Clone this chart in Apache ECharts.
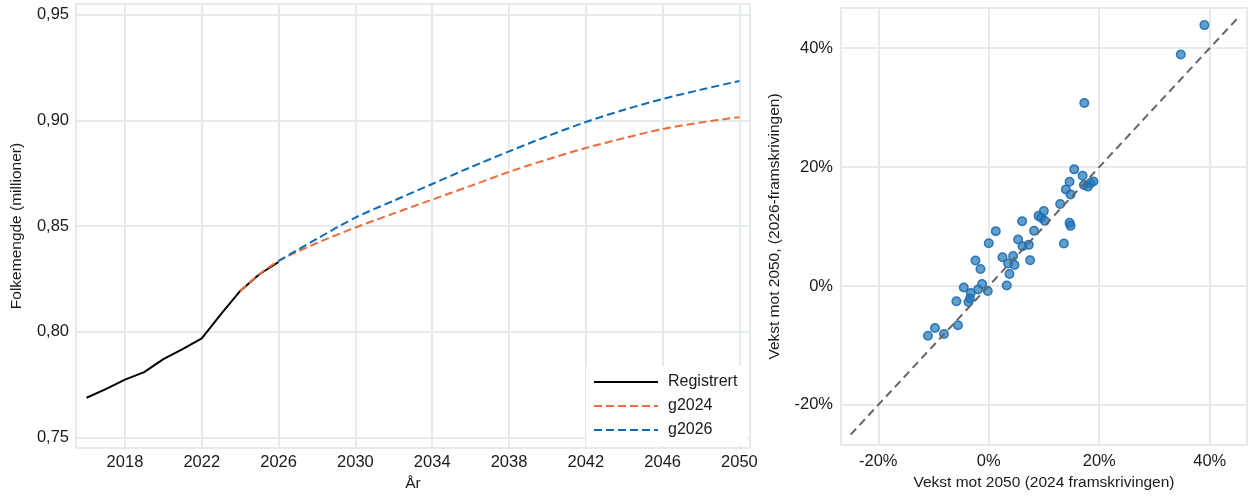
<!DOCTYPE html>
<html>
<head>
<meta charset="utf-8">
<script src="https://cdn.jsdelivr.net/npm/echarts@6/dist/echarts.min.js"></script>
<style>
  html, body { margin: 0; padding: 0; background: #fff; }
  #chart { width: 1258px; height: 497px; }
</style>
</head>
<body>
<div id="chart"></div>
<script>
// ---- Left panel data ----
const regYears = [2016, 2017, 2018, 2019, 2020, 2021, 2022, 2023, 2024, 2025, 2026];
const regValues = [0.7688, 0.7729, 0.7774, 0.7809, 0.7871, 0.7918, 0.7969, 0.8083, 0.8193, 0.8272, 0.8330];

const g2024Years = [2024, 2025, 2026, 2028, 2030, 2032, 2034, 2036, 2038, 2040, 2042, 2044, 2046, 2048, 2050];
const g2024Values = [0.8193, 0.8272, 0.8335, 0.8420, 0.8493, 0.8560, 0.8625, 0.8690, 0.8756, 0.8815, 0.8869, 0.8916, 0.8959, 0.8990, 0.9015];

const g2026Years = [2026, 2028, 2030, 2032, 2034, 2036, 2038, 2040, 2042, 2044, 2046, 2048, 2050];
const g2026Values = [0.8335, 0.8440, 0.8540, 0.8620, 0.8699, 0.8778, 0.8853, 0.8925, 0.8992, 0.9050, 0.9101, 0.9145, 0.9186];

const leftXTicks = [2018, 2022, 2026, 2030, 2034, 2038, 2042, 2046, 2050];
const leftYTicks = [0.75, 0.80, 0.85, 0.90, 0.95];

// ---- Right panel data (percent) ----
const growth2024 = [15.47, 16.99, 14.63, 17.23, 17.95, 18.40, 18.95, 13.96, 14.81, 12.93,
  9.01, 9.97, 9.48, 10.15, 14.63, 14.81, 6.04, 8.21, 1.27, 0.00,
  5.31, 6.11, 7.25, 13.60, 2.48, 4.41, -2.41, 3.50, 4.66, 7.49,
  -1.50, 3.75, -1.21, -4.53, -3.26, -1.94, -0.18, 3.26, -5.86, -3.39,
  -3.68, -5.57, -9.74, -11.01, -8.11, 39.04, 34.76, 17.30];
const growth2026 = [19.61, 18.53, 17.52, 16.97, 16.71, 17.30, 17.56, 16.24, 15.40, 13.77,
  11.79, 12.59, 11.46, 10.95, 10.61, 10.11, 10.90, 9.27, 9.22, 7.19,
  7.82, 6.69, 6.91, 7.14, 4.84, 5.05, 4.28, 3.77, 3.54, 4.33,
  2.86, 2.02, 0.34, -0.27, -1.18, -0.61, -0.84, 0.07, -2.58, -2.12,
  -2.70, -6.62, -7.08, -8.36, -8.09, 43.87, 38.92, 30.78];
const diagX = [-25, 45];
const diagY = [-25, 45];
const rightTicks = [-20, 0, 20, 40];

// ---- styles ----
const gridColor = '#e5eaea';
const textColor = '#1a1a1a';
const fontFamily = '"Liberation Sans", Arial, sans-serif';

const pairs = (xs, ys) => xs.map((x, i) => [x, ys[i]]);

const chart = echarts.init(document.getElementById('chart'), null, { renderer: 'canvas' });

const option = {
  animation: false,
  backgroundColor: '#fff',
  textStyle: { fontFamily: fontFamily, color: textColor },
  grid: [
    { left: 76, top: 4, width: 674, height: 446, show: true, borderColor: gridColor, borderWidth: 2, backgroundColor: '#fff' },
    { left: 841, top: 8, width: 406, height: 437, show: true, borderColor: gridColor, borderWidth: 2, backgroundColor: '#fff' }
  ],
  legend: {
    show: true,
    data: ['Registrert', 'g2024', 'g2026'],
    orient: 'vertical',
    left: 586,
    top: 366,
    padding: [8, 10, 8, 7],
    itemGap: 8,
    itemWidth: 64,
    itemHeight: 16,
    backgroundColor: '#fff',
    z: 10,
    itemStyle: { opacity: 0 },
    textStyle: { fontSize: 16, color: textColor, fontFamily: fontFamily, padding: [0, 0, 0, 5] }
  },
  xAxis: [
    {
      gridIndex: 0, type: 'value', min: 2015.45, max: 2050.55,
      name: 'År', nameLocation: 'middle', nameGap: 20,
      nameTextStyle: { fontSize: 15.5, color: textColor, fontFamily: fontFamily },
      axisLine: { show: false },
      axisTick: { show: false, customValues: leftXTicks },
      axisLabel: { customValues: leftXTicks, fontSize: 16.5, color: textColor, margin: 6, formatter: v => String(v) },
      splitLine: { show: true, lineStyle: { color: gridColor, width: 2 } }
    },
    {
      gridIndex: 1, type: 'value', min: -26.75, max: 46.75,
      name: 'Vekst mot 2050 (2024 framskrivingen)', nameLocation: 'middle', nameGap: 23,
      nameTextStyle: { fontSize: 15.5, color: textColor, fontFamily: fontFamily },
      axisLine: { show: false },
      axisTick: { show: false, customValues: rightTicks },
      axisLabel: { customValues: rightTicks, fontSize: 16.5, color: textColor, margin: 8, formatter: v => v + '%' },
      splitLine: { show: true, lineStyle: { color: gridColor, width: 2 } }
    }
  ],
  yAxis: [
    {
      gridIndex: 0, type: 'value', min: 0.745, max: 0.955,
      name: 'Folkemengde (millioner)', nameLocation: 'middle', nameGap: 51, nameRotate: 90,
      nameTextStyle: { fontSize: 15.5, color: textColor, fontFamily: fontFamily },
      axisLine: { show: false },
      axisTick: { show: false, customValues: leftYTicks },
      axisLabel: { customValues: leftYTicks, fontSize: 16.5, color: textColor, margin: 7, formatter: v => v.toFixed(2).replace('.', ',') },
      splitLine: { show: true, lineStyle: { color: gridColor, width: 2 } }
    },
    {
      gridIndex: 1, type: 'value', min: -26.75, max: 46.75,
      name: 'Vekst mot 2050, (2026-framskrivingen)', nameLocation: 'middle', nameGap: 58, nameRotate: 90,
      nameTextStyle: { fontSize: 15.5, color: textColor, fontFamily: fontFamily },
      axisLine: { show: false },
      axisTick: { show: false, customValues: rightTicks },
      axisLabel: { customValues: rightTicks, fontSize: 16.5, color: textColor, margin: 8, formatter: v => v + '%' },
      splitLine: { show: true, lineStyle: { color: gridColor, width: 2 } }
    }
  ],
  series: [
    {
      name: 'Registrert', type: 'line', xAxisIndex: 0, yAxisIndex: 0,
      data: pairs(regYears, regValues), symbol: 'none', z: 2,
      lineStyle: { color: '#000000', width: 2 }, itemStyle: { color: '#000000' }
    },
    {
      name: 'g2024', type: 'line', xAxisIndex: 0, yAxisIndex: 0,
      data: pairs(g2024Years, g2024Values), symbol: 'none', smooth: 0.3, z: 3,
      lineStyle: { color: '#f06a3c', width: 2, type: [8, 4] }, itemStyle: { color: '#f06a3c' }
    },
    {
      name: 'g2026', type: 'line', xAxisIndex: 0, yAxisIndex: 0,
      data: pairs(g2026Years, g2026Values), symbol: 'none', smooth: 0.3, z: 3,
      lineStyle: { color: '#0e6bb5', width: 2, type: [8, 4] }, itemStyle: { color: '#0e6bb5' }
    },
    {
      name: 'diag', type: 'line', xAxisIndex: 1, yAxisIndex: 1,
      data: pairs(diagX, diagY), symbol: 'none', z: 3,
      lineStyle: { color: '#666666', width: 2, type: [8, 5] }
    },
    {
      name: 'punkter', type: 'scatter', xAxisIndex: 1, yAxisIndex: 1,
      data: pairs(growth2024, growth2026), symbol: 'circle', symbolSize: 8.5, z: 2,
      itemStyle: { color: 'rgba(31,119,180,0.7)', borderColor: 'rgba(31,110,180,0.9)', borderWidth: 1.5, opacity: 1 }
    }
  ]
};

chart.setOption(option);
</script>
</body>
</html>
